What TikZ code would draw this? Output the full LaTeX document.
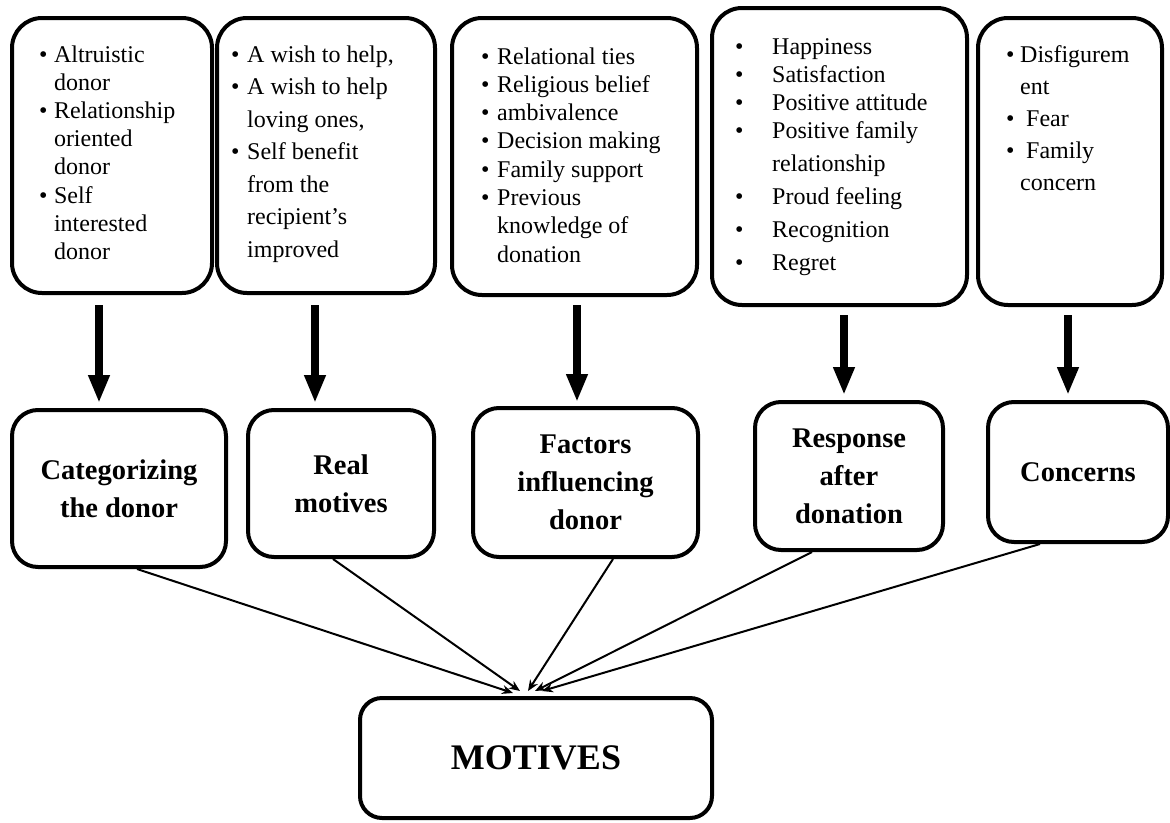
\documentclass[tikz,border=0pt]{standalone}
\usepackage{fontspec}
\setmainfont{Liberation Serif}
\usepackage{tikz}
\usetikzlibrary{positioning,arrows.meta}

\tikzset{
  topbox/.style={rectangle, rounded corners=30pt, draw, line width=4pt, inner sep=0pt},
  midbox/.style={rectangle, rounded corners=26pt, draw, line width=4pt, align=center,
                 font=\fontsize{28.5}{38}\selectfont\bfseries},
  itemlist/.style={anchor=base west, inner sep=0pt},
  bigarrow/.style={line width=8pt, -{Triangle[width=20pt,length=28pt]}},
  thinarrow/.style={line width=2pt, -{Stealth[width=9pt,length=11pt]}}
}

\begin{document}
\begin{tikzpicture}[x=1pt,y=-1pt]
    \useasboundingbox (0,0) rectangle (1170,822);

    % top boxes
    \node[topbox, minimum width=200, minimum height=275] (b1) at (112,155.5) {};
    \node[topbox, minimum width=218, minimum height=275] (b2) at (326,155.5) {};
    \node[topbox, minimum width=245, minimum height=277] (b3) at (574.5,156.5) {};
    \node[topbox, minimum width=255, minimum height=297] (b4) at (839.5,156.5) {};
    \node[topbox, minimum width=184, minimum height=287] (b5) at (1070,161.5) {};

    \node[itemlist] (t1) at (38.8,62) {\fontsize{24}{28.2}\selectfont
      \begin{tabular}[t]{@{}c@{\hspace{6.6pt}}l@{}}
        \textbullet & Altruistic\\ & donor\\
        \textbullet & Relationship\\ & oriented\\ & donor\\
        \textbullet & Self\\ & interested\\ & donor
      \end{tabular}};
    \node[itemlist] (t2) at (230.8,62) {\fontsize{24}{32.5}\selectfont
      \begin{tabular}[t]{@{}c@{\hspace{7.8pt}}l@{}}
        \textbullet & A wish to help,\\
        \textbullet & A wish to help\\ & loving ones,\\
        \textbullet & Self benefit\\ & from the\\ & recipient’s\\ & improved
      \end{tabular}};
    \node[itemlist] (t3) at (480.8,64) {\fontsize{24}{28.3}\selectfont
      \begin{tabular}[t]{@{}c@{\hspace{7.8pt}}l@{}}
        \textbullet & Relational ties\\
        \textbullet & Religious belief\\
        \textbullet & ambivalence\\
        \textbullet & Decision making\\
        \textbullet & Family support\\
        \textbullet & Previous\\ & knowledge of\\ & donation
      \end{tabular}};
    \node[itemlist] (t4) at (734.8,54) {\fontsize{24}{28.3}\selectfont
      \begin{tabular}[t]{@{}c@{\hspace{28.8pt}}l@{}}
        \textbullet & Happiness\\
        \textbullet & Satisfaction\\
        \textbullet & Positive attitude\\
        \textbullet & Positive family\\[4.7pt]
        & relationship\\[4.7pt]
        \textbullet & Proud feeling\\[4.7pt]
        \textbullet & Recognition\\[4.7pt]
        \textbullet & Regret
      \end{tabular}};
    \node[itemlist] (t5) at (1005.8,62) {\fontsize{24}{32}\selectfont
      \begin{tabular}[t]{@{}c@{\hspace{5.8pt}}l@{}}
        \textbullet & Disfigurem\\ & ent\\
        \textbullet & \hspace{6pt}Fear\\
        \textbullet & \hspace{6pt}Family\\ & concern
      \end{tabular}};

    % middle boxes
    \node[midbox, minimum width=214, minimum height=157] (m1) at (119,488.5) {Categorizing\\the donor};
    \node[midbox, minimum width=186, minimum height=147] (m2) at (341,483.5) {Real\\motives};
    \node[midbox, minimum width=225, minimum height=149] (m3) at (585.5,482.5) {Factors\\influencing\\donor};
    \node[midbox, minimum width=188, minimum height=148] (m4) at (849,476) {Response\\after\\donation};
    \node[midbox, minimum width=180, minimum height=140] (m5) at (1078,472) {Concerns};

    % bottom box
    \node[rectangle, rounded corners=22pt, draw, line width=4pt, minimum width=352, minimum height=120,
          font=\fontsize{36}{40}\selectfont\bfseries] (mot) at (536,758) {MOTIVES};

    % thick arrows
    \draw[bigarrow] ([xshift=-13pt,yshift=-10pt]b1.south) -- ([xshift=-20pt,yshift=5pt]m1.north);
    \draw[bigarrow] ([xshift=-11pt,yshift=-10pt]b2.south) -- ([xshift=-26pt,yshift=5pt]m2.north);
    \draw[bigarrow] ([xshift=2.5pt,yshift=-8pt]b3.south) -- ([xshift=-8.5pt,yshift=4pt]m3.north);
    \draw[bigarrow] ([xshift=4.5pt,yshift=-8pt]b4.south) -- ([xshift=-5pt,yshift=5pt]m4.north);
    \draw[bigarrow] ([xshift=-2pt,yshift=-8pt]b5.south) -- ([xshift=-10pt,yshift=5pt]m5.north);

    % thin arrows
    \draw[thinarrow] ([xshift=18pt]m1.south) -- ([xshift=-23pt,yshift=3pt]mot.north);
    \draw[thinarrow] ([xshift=-8pt]m2.south) -- ([xshift=-16pt,yshift=5pt]mot.north);
    \draw[thinarrow] ([xshift=27.5pt]m3.south) -- ([xshift=-8pt,yshift=5pt]mot.north);
    \draw[thinarrow] ([xshift=-37pt]m4.south) -- ([xshift=-1pt,yshift=5pt]mot.north);
    \draw[thinarrow] ([xshift=-38pt]m5.south) -- ([xshift=6pt,yshift=5pt]mot.north);
\end{tikzpicture}
\end{document}
